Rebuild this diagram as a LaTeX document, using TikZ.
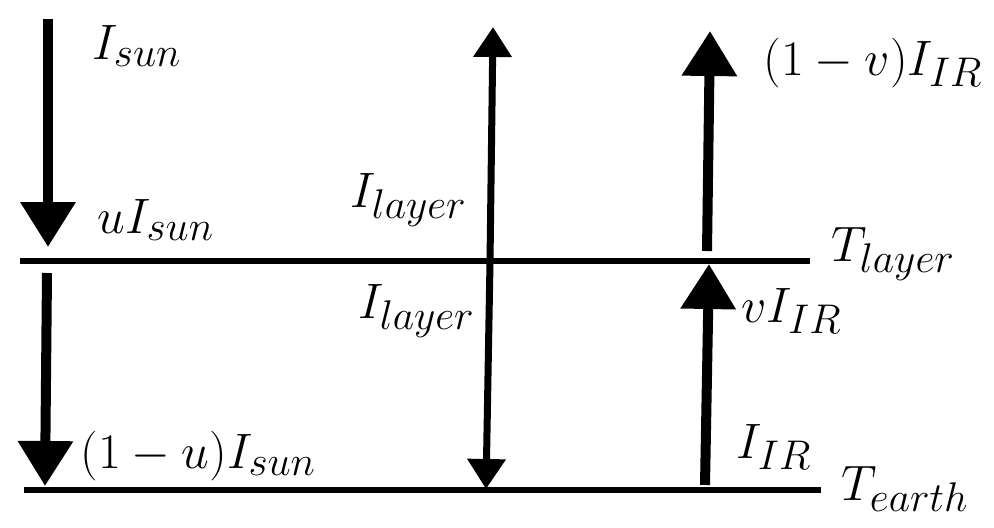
\documentclass[tikz,border=0pt]{standalone}
\usetikzlibrary{arrows.meta}
\DeclareMathSizes{24}{24}{19.5}{14}
\begin{document}
\begin{tikzpicture}[x=0.5pt,y=-0.5pt,
  level/.style={line width=2.6pt},
  bigarrow/.style={line width=5pt,-{Triangle[width=26.5pt,length=22.5pt]}},
  midarrow/.style={line width=3.5pt,-{Triangle[width=18.5pt,length=15pt]}},
  lab/.style={anchor=base west,inner sep=0pt,font=\fontsize{24}{28}\selectfont}]
\useasboundingbox (0,0) rectangle (994,527);
% levels
\coordinate (layerL) at (20,261);
\coordinate (layerR) at (810,261);
\coordinate (earthL) at (24,490);
\coordinate (earthR) at (821,490);
\draw[level] (layerL) -- (layerR);
\draw[level] (earthL) -- (earthR);
% arrow end points
\coordinate (sunA) at (48,19);
\coordinate (sunB) at (48,247);
\coordinate (sunC) at (47,273);
\coordinate (sunD) at (45,486);
\coordinate (midL) at (490,262);
\coordinate (midTop) at (493,27);
\coordinate (midBot) at (486,489);
\coordinate (irA) at (705,485);
\coordinate (irB) at (709,264);
\coordinate (irC) at (707,251);
\coordinate (irD) at (710,31);
\draw[bigarrow] (sunA) -- (sunB);
\draw[bigarrow] (sunC) -- (sunD);
\draw[midarrow] (midL) -- (midTop);
\draw[midarrow] (midL) -- (midBot);
\draw[bigarrow] (irA) -- (irB);
\draw[bigarrow] (irC) -- (irD);
% labels
\node[lab] (lsun) at (92,59) {$I_{sun}$};
\node[lab] (lusun) at (97,233) {$uI_{sun}$};
\node[lab] (llay1) at (350,207) {$I_{layer}$};
\node[lab] (llay2) at (358,318) {$I_{layer}$};
\node[lab] (lvir) at (763,75) {$(1-v)I_{IR}$};
\node[lab] (ltlay) at (831,261) {$T_{layer}$};
\node[lab] (lvir2) at (741,322) {$vI_{IR}$};
\node[lab] (lir) at (736,458) {$I_{IR}$};
\node[lab] (lteh) at (841,500) {$T_{earth}$};
\node[lab] (lusun2) at (80,468) {$(1-u)I_{sun}$};
\end{tikzpicture}
\end{document}
